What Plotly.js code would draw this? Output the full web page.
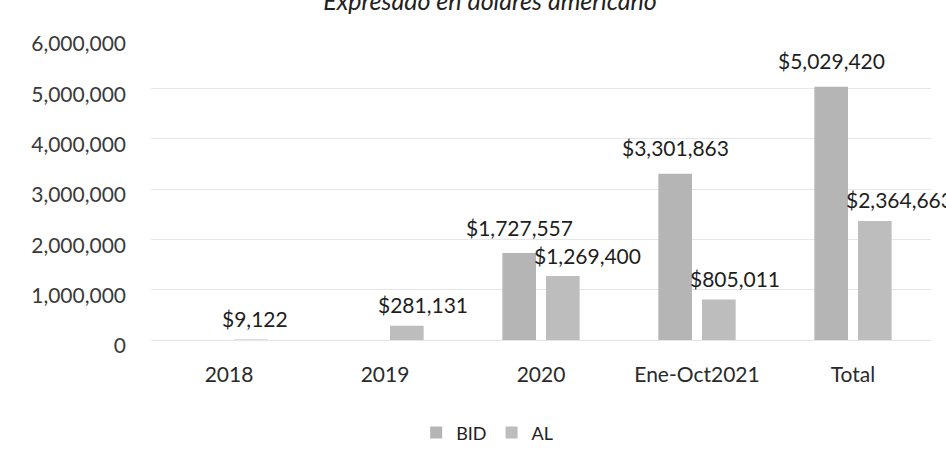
<!DOCTYPE html>
<html>
<head>
<meta charset="utf-8">
<script src="https://cdn.plot.ly/plotly-3.0.1.min.js"></script>
<style>
  html, body { margin: 0; padding: 0; background: #ffffff; }
  #chart { width: 946px; height: 459px; }
</style>
</head>
<body>
<div id="chart"></div>
<script>
const categories = ["2018", "2019", "2020", "Ene-Oct2021", "Total"];
const bidValues = [0, 0, 1727557, 3301863, 5029420];
const alValues = [9122, 281131, 1269400, 805011, 2364663];
const seriesNames = ["BID", "AL"];
const titleText = "Expresado en dólares americano";

function money(v) {
  return "$" + v.toLocaleString("en-US");
}

const FONT = "Lato, 'Open Sans', sans-serif";

const traces = [
  {
    type: "bar",
    name: seriesNames[0],
    x: categories,
    y: bidValues,
    marker: { color: "#b5b5b5" },
    hoverinfo: "skip"
  },
  {
    type: "bar",
    name: seriesNames[1],
    x: categories,
    y: alValues,
    marker: { color: "#bdbdbd" },
    hoverinfo: "skip"
  }
];

// data labels anchored to each bar (category index on the category axis)
const annotations = [];
categories.forEach((c, i) => {
  if (bidValues[i] > 0) {
    annotations.push({
      x: i, xref: "x", y: bidValues[i], yref: "y",
      text: money(bidValues[i]), showarrow: false,
      xanchor: "center", yanchor: "middle",
      xshift: -22, yshift: 26,
      font: { family: FONT, size: 21, color: "#1e1e1e" }
    });
  }
  if (alValues[i] > 0) {
    annotations.push({
      x: i, xref: "x", y: alValues[i], yref: "y",
      text: money(alValues[i]), showarrow: false,
      xanchor: "left", yanchor: "middle",
      xshift: -9, yshift: 21,
      font: { family: FONT, size: 21, color: "#1e1e1e" }
    });
  }
});

const layout = {
  width: 946,
  height: 459,
  paper_bgcolor: "#ffffff",
  plot_bgcolor: "#ffffff",
  margin: { l: 151, r: 15, t: 38, b: 119, pad: 0 },
  font: { family: FONT, size: 21, color: "#404040" },
  title: {
    text: titleText,
    font: { family: FONT, size: 25, color: "#222222", style: "italic" },
    xref: "container", yref: "container",
    x: 0.518, xanchor: "center",
    y: 0.998, yanchor: "middle"
  },
  barmode: "group",
  bargap: 0.44,
  bargroupgap: 0.23,
  showlegend: true,
  legend: {
    orientation: "h",
    xref: "container", yref: "container",
    x: 0.515, xanchor: "center",
    y: 0.057, yanchor: "middle",
    font: { family: FONT, size: 18, color: "#222222" },
    itemwidth: 30,
    bgcolor: "rgba(0,0,0,0)"
  },
  xaxis: {
    type: "category",
    categoryorder: "array",
    categoryarray: categories,
    range: [-0.5, categories.length - 0.5],
    showgrid: false,
    zeroline: false,
    showline: false,
    ticks: "",
    ticklabelstandoff: 20,
    tickfont: { family: FONT, size: 21, color: "#2a2a2a" },
    fixedrange: true
  },
  yaxis: {
    range: [0, 6000000],
    dtick: 1000000,
    tick0: 0,
    tickformat: ",d",
    showgrid: true,
    gridcolor: "#e6e6e6",
    gridwidth: 1,
    zeroline: true,
    zerolinecolor: "#e6e6e6",
    zerolinewidth: 1,
    showline: false,
    ticks: "",
    ticklabelstandoff: 24,
    ticklabelshift: 6,
    tickfont: { family: FONT, size: 21, color: "#3a3a3a" },
    fixedrange: true
  },
  annotations: annotations
};

Plotly.newPlot("chart", traces, layout, { displayModeBar: false, staticPlot: true });
</script>
</body>
</html>
